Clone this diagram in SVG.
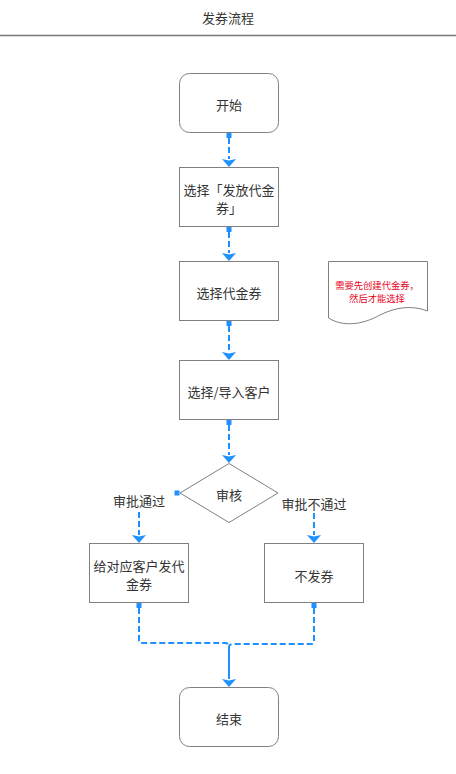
<svg xmlns="http://www.w3.org/2000/svg" width="456" height="774" viewBox="0 0 456 774">
<style>
text{font-family:"Noto Sans CJK SC","Noto Sans",sans-serif;font-size:13px;fill:#333;text-anchor:middle;dominant-baseline:central}
.box{fill:#fff;stroke:#808080;stroke-width:1}
.e{fill:none;stroke:#1E90FF;stroke-width:2;stroke-dasharray:6 3}
.s{fill:none;stroke:#1E90FF;stroke-width:2}
.sq{fill:#1E90FF}
.note{font-size:9.3px;fill:#E8001C}
</style>
<defs>
<marker id="a" markerUnits="userSpaceOnUse" viewBox="0 0 9 14" markerWidth="9" markerHeight="14" refX="0" refY="7" orient="auto">
<path d="M0,0 L8,7 L0,14 L1.5,7 Z" fill="#1E90FF"/>
</marker>
</defs>
<rect width="456" height="774" fill="#fff"/>
<g id="title">
<text x="228" y="17">发券流程</text>
<line x1="0" y1="35.5" x2="456" y2="35.5" stroke="#777" stroke-width="1.5"/>
</g>
<g id="start"><rect class="box" x="179.5" y="73.5" width="99" height="59" rx="10"/><text x="229" y="104">开始</text></g>
<g id="choose-issue"><rect class="box" x="179.5" y="167.5" width="99" height="59"/><text x="229" y="189">选择「发放代金</text><text x="229" y="207">券」</text></g>
<g id="choose-coupon"><rect class="box" x="179.5" y="261.5" width="99" height="59"/><text x="229" y="292">选择代金券</text></g>
<g id="choose-customer"><rect class="box" x="179.5" y="360.5" width="99" height="59"/><text x="229" y="391">选择/导入客户</text></g>
<g id="review"><path class="box" d="M229,463.5 L278,493 L229,522.5 L180,493 Z"/><text x="229" y="494">审核</text></g>
<g id="issue"><rect class="box" x="89.5" y="543.5" width="99" height="59"/><text x="139" y="565">给对应客户发代</text><text x="139" y="583">金券</text></g>
<g id="no-issue"><rect class="box" x="264.5" y="543.5" width="99" height="59"/><text x="314" y="575">不发券</text></g>
<g id="end"><rect class="box" x="179.5" y="687.5" width="99" height="59" rx="10"/><text x="229" y="718">结束</text></g>
<g id="note">
<path class="box" d="M328.5,261.5 H427.5 V311 C412,305 396,307 380,315 C362,325 343,327 328.5,318 Z"/>
<text class="note" x="377" y="285">需要先创建代金券，</text>
<text class="note" x="377" y="298">然后才能选择</text>
</g>
<g id="connectors">
<rect class="sq" x="226.5" y="133" width="5" height="5"/>
<path class="e" d="M229,138 V159" marker-end="url(#a)"/>
<rect class="sq" x="226.5" y="227" width="5" height="5"/>
<path class="e" d="M229,232 V253" marker-end="url(#a)"/>
<rect class="sq" x="226.5" y="321" width="5" height="5"/>
<path class="e" d="M229,326 V352" marker-end="url(#a)"/>
<rect class="sq" x="226.5" y="420" width="5" height="5"/>
<path class="e" d="M229,425 V455" marker-end="url(#a)"/>
<rect class="sq" x="174.5" y="490.5" width="5" height="5"/>
<text x="139" y="500">审批通过</text>
<path class="e" d="M139,512 V535" marker-end="url(#a)"/>
<text x="314" y="503">审批不通过</text>
<path class="e" d="M314,513 V535" marker-end="url(#a)"/>
<rect class="sq" x="136.5" y="603" width="5" height="5"/>
<rect class="sq" x="311.5" y="603" width="5" height="5"/>
<path class="e" d="M139,608 V640 Q139,643 142,643 H225 Q228,643 229,646"/>
<path class="e" d="M314,608 V641 Q314,644 311,644 H233 Q230,644 229,646"/>
<path class="s" d="M229,646 V679" marker-end="url(#a)"/>
</g>
</svg>
